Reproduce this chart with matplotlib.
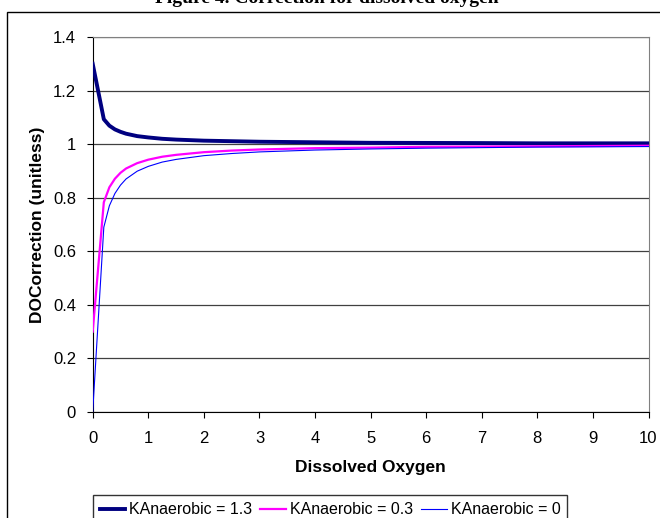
import matplotlib.pyplot as plt
from matplotlib.patches import Rectangle

plt.rcParams['font.family'] = ['Liberation Sans', 'DejaVu Sans']

# dissolved oxygen values (x) and DOCorrection for each KAnaerobic
do = [0, 0.2, 0.3, 0.4, 0.5, 0.6, 0.8, 1, 1.25, 1.5, 2, 2.5, 3, 4, 5, 6, 7, 8, 9, 10]
k13 = [1.3, 1.093, 1.069, 1.055, 1.046, 1.039, 1.030, 1.025, 1.020, 1.017, 1.013,
       1.011, 1.009, 1.007, 1.005, 1.0045, 1.004, 1.003, 1.003, 1.003]
k03 = [0.3, 0.783, 0.839, 0.871, 0.893, 0.909, 0.929, 0.942, 0.953, 0.960, 0.970,
       0.976, 0.980, 0.985, 0.987, 0.990, 0.991, 0.992, 0.993, 0.994]
k0 = [0.0, 0.690, 0.770, 0.816, 0.847, 0.870, 0.899, 0.917, 0.933, 0.943, 0.957,
      0.965, 0.971, 0.978, 0.982, 0.985, 0.987, 0.989, 0.990, 0.991]

fig = plt.figure(figsize=(6.6, 5.18), dpi=100)
ax = fig.add_axes([92.7/660, 1-412/518, (648.5-92.7)/660, (412-37)/518])

# outer chart frame (only left/top are visible in the crop)
fig.patches.append(Rectangle((7/660, -0.2), 1.2, 0.2 + 1 - 12/518, transform=fig.transFigure,
                             fill=False, edgecolor='black', linewidth=1.0))

# clipped title above the frame
fig.text(0.495, 1 - 3/518, 'Figure 4. Correction for dissolved oxygen', ha='center', va='baseline',
         fontsize=14, fontweight='bold', family=['Liberation Serif', 'DejaVu Serif'])

ax.plot(do, k13, color='#000080', linewidth=2.8, label='KAnaerobic = 1.3', zorder=3)
ax.plot(do, k03, color='#FF00FF', linewidth=1.6, label='KAnaerobic = 0.3', zorder=4)
ax.plot(do, k0, color='#0000FF', linewidth=0.8, label='KAnaerobic = 0', zorder=5)

ax.set_xlim(0, 10)
ax.set_ylim(0, 1.4)
ax.set_xticks(range(0, 11))
ax.set_yticks([0, 0.2, 0.4, 0.6, 0.8, 1, 1.2, 1.4])
ax.set_yticklabels(['0', '0.2', '0.4', '0.6', '0.8', '1', '1.2', '1.4'])
ax.yaxis.grid(True, color='#404040', linewidth=0.9)
ax.set_axisbelow(True)
ax.tick_params(labelsize=12, direction='out', length=4, width=0.8, colors='black')
ax.tick_params(axis='x', pad=10)
ax.tick_params(axis='y', pad=8)

for s in ['top', 'right']:
    ax.spines[s].set_color('#808080')
for s in ['left', 'bottom']:
    ax.spines[s].set_color('black')

ax.set_xlabel('Dissolved Oxygen', fontsize=12.5, fontweight='bold', labelpad=10)
ax.set_ylabel('DOCorrection (unitless)', fontsize=12.5, fontweight='bold', labelpad=6)

leg = fig.legend(loc='upper center', bbox_to_anchor=(330/660, 1-495/518), ncol=3, fontsize=11.5,
                 frameon=True, fancybox=False, edgecolor='black', handlelength=1.6,
                 handletextpad=0.25, columnspacing=0.5, borderpad=0.45, borderaxespad=0)
leg.get_frame().set_linewidth(1.0)

plt.savefig('out.png', dpi=100)
